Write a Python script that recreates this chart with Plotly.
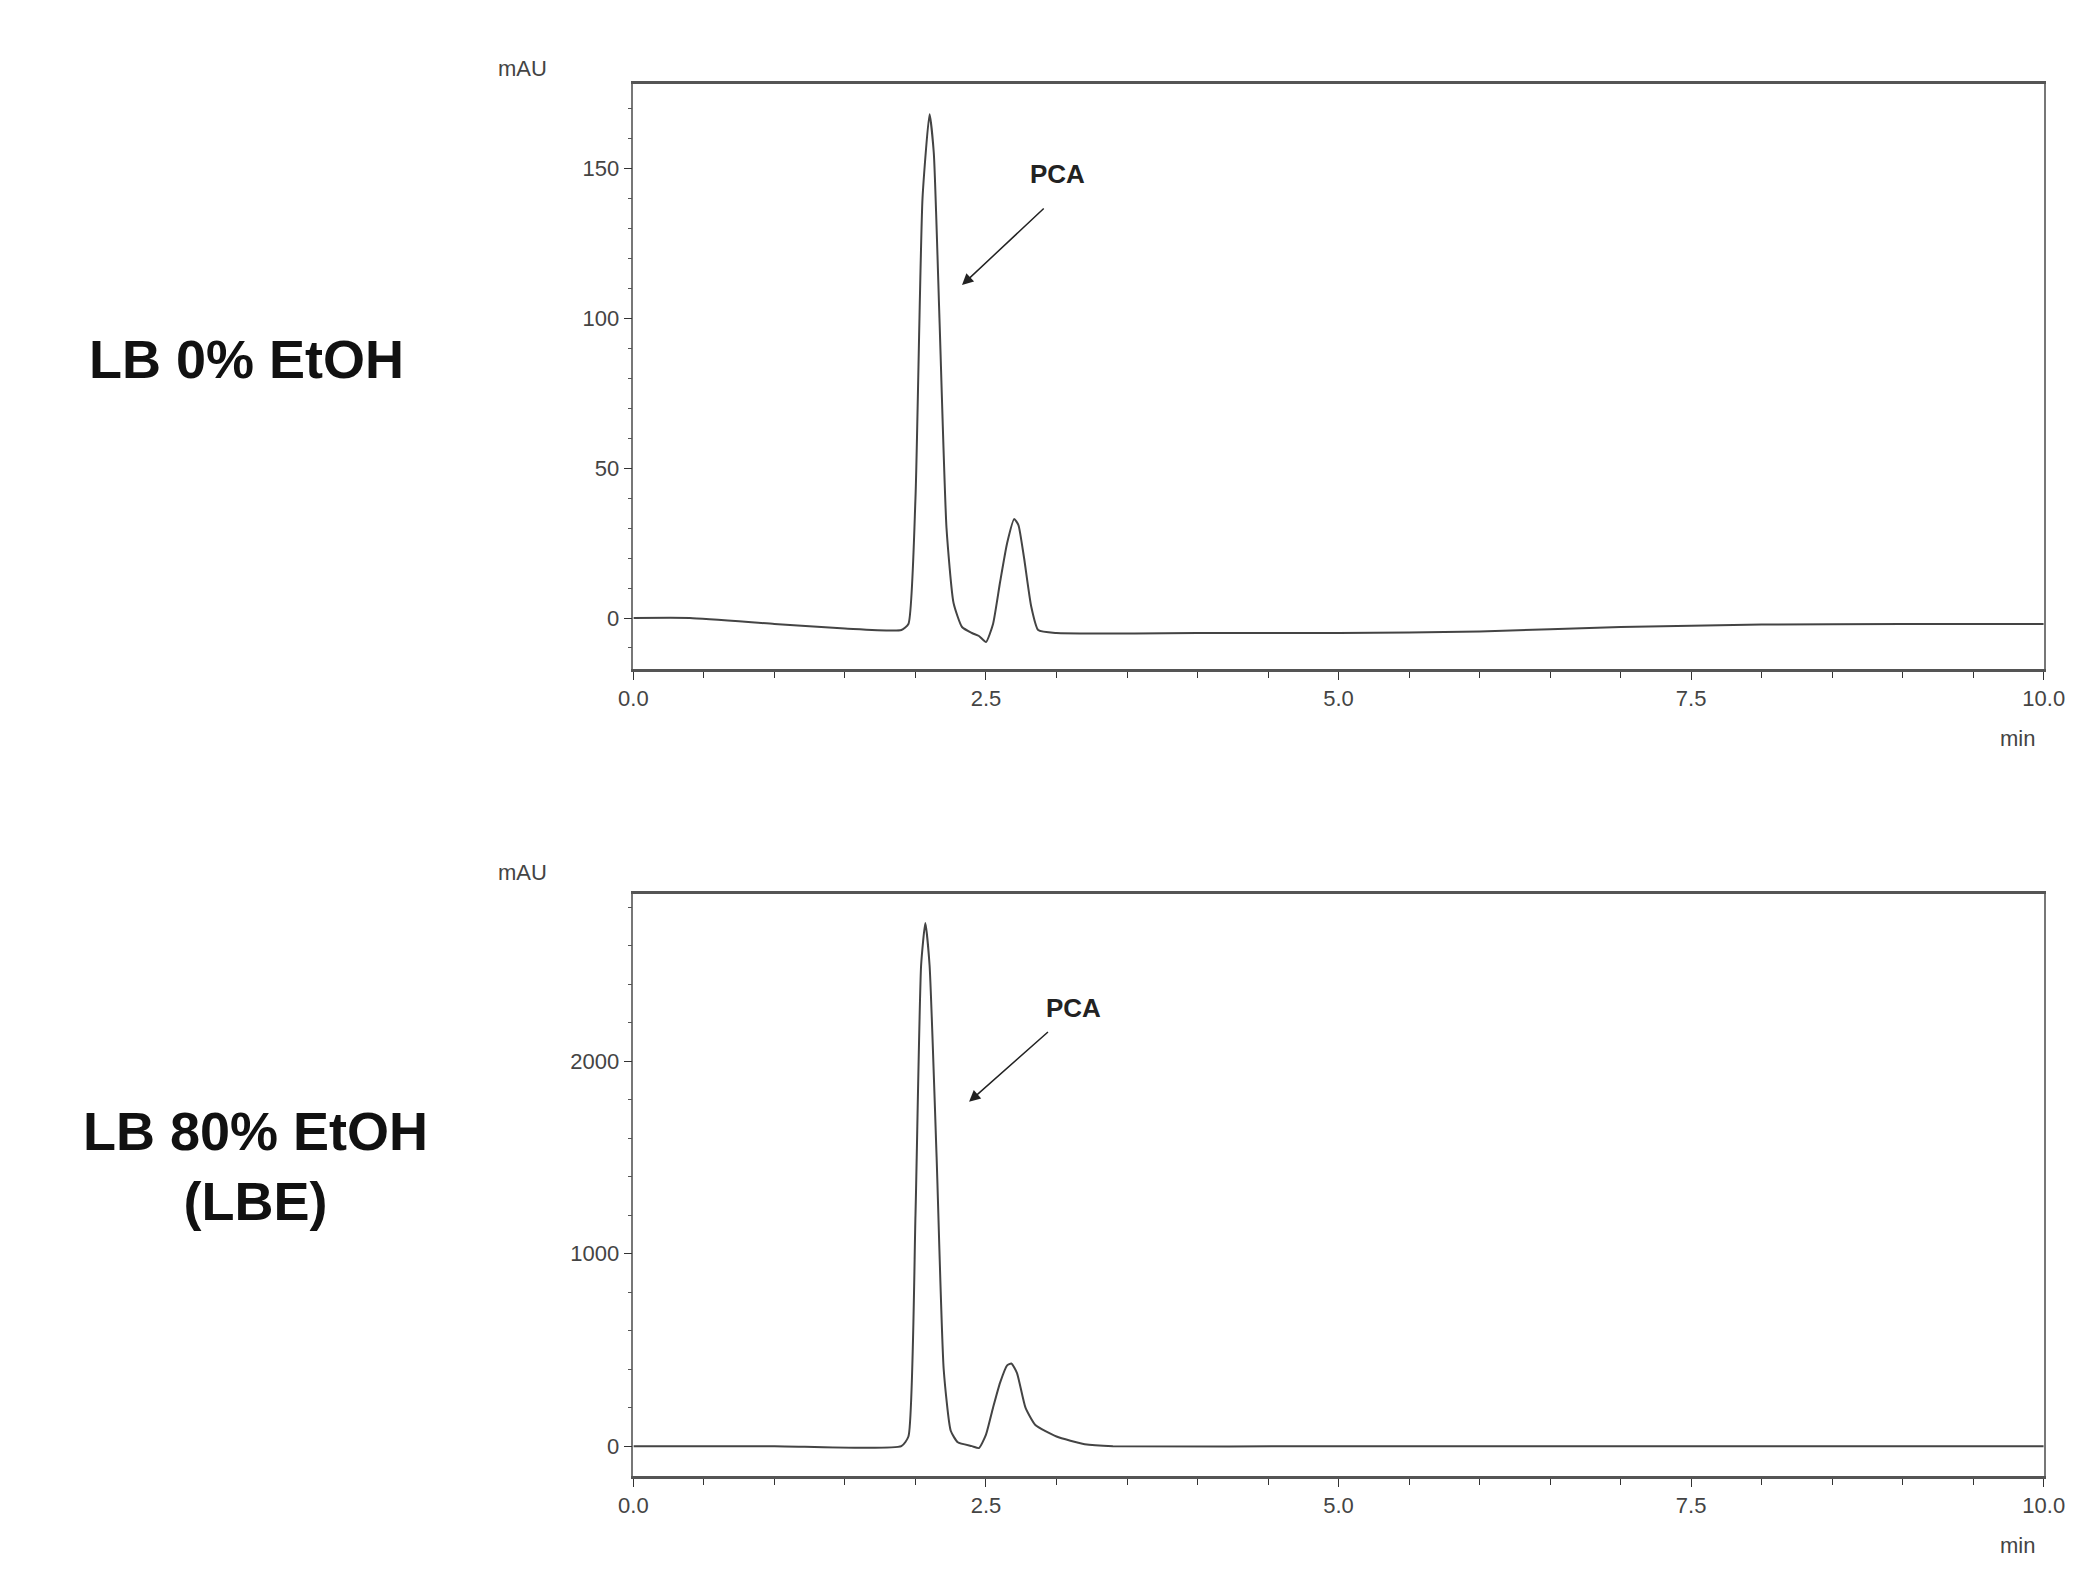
import plotly.graph_objects as go
from plotly.subplots import make_subplots

t_top = [0, 0.4, 1.0, 1.5, 1.9, 1.95, 2.0, 2.05, 2.1, 2.13, 2.17, 2.22, 2.27, 2.33, 2.4, 2.45, 2.5, 2.55, 2.6, 2.65, 2.7, 2.73, 2.77, 2.82, 2.87, 3.0, 4.0, 5.0, 6.0, 7.0, 8.0, 9.0, 10.0]
y_top = [0, 0, -2, -3.5, -4, -2, 40, 140, 168, 155, 100, 30, 5, -3, -5, -6, -8, -2, 12, 25, 33, 31, 20, 4, -4, -5, -5, -5, -4.5, -3, -2.2, -2, -2]
t_bot = [0, 1.0, 1.9, 1.95, 2.0, 2.04, 2.07, 2.1, 2.15, 2.2, 2.25, 2.3, 2.4, 2.45, 2.5, 2.55, 2.6, 2.65, 2.68, 2.72, 2.78, 2.85, 3.0, 3.2, 3.4, 5.0, 7.0, 10.0]
y_bot = [0, 0, 0, 50, 1200, 2500, 2720, 2500, 1500, 400, 80, 20, 0, -10, 60, 200, 330, 420, 430, 380, 200, 110, 50, 10, 0, 0, 0, 0]
row_labels = ["LB 0% EtOH", "LB 80% EtOH<br>(LBE)"]

fig = make_subplots(rows=2, cols=1)
fig.add_trace(go.Scatter(x=t_top, y=y_top, mode="lines", line=dict(color="#444", width=2, shape="spline", smoothing=0.5)), row=1, col=1)
fig.add_trace(go.Scatter(x=t_bot, y=y_bot, mode="lines", line=dict(color="#444", width=2, shape="spline", smoothing=0.5)), row=2, col=1)

tickfont = dict(family="Arial, Liberation Sans", size=22, color="#444")
xdom = [0.2966, 0.9819]
for i, (ydom, yr, dt, mt) in enumerate([([0.5835, 0.952], [-17, 178], 50, 10), ([0.075, 0.4417], [-155, 2870], 1000, 200)], start=1):
    fig.update_xaxes(row=i, col=1, domain=xdom, range=[0, 10], tickvals=[0, 2.5, 5, 7.5, 10],
                     ticktext=["0.0", "2.5", "5.0", "7.5", "10.0"], ticks="outside", ticklen=8, tickcolor="#333",
                     minor=dict(dtick=0.5, ticks="outside", ticklen=6, tickcolor="#333"),
                     showline=True, linecolor="#555", linewidth=3, mirror=True, showgrid=False, zeroline=False,
                     tickfont=tickfont)
    fig.update_yaxes(row=i, col=1, domain=ydom, range=yr, dtick=dt, ticks="outside", ticklen=8, tickcolor="#333",
                     minor=dict(dtick=mt, ticks="outside", ticklen=4, tickcolor="#555"),
                     showline=True, linecolor="#777", linewidth=1.5, mirror=True, showgrid=False, zeroline=False,
                     tickfont=tickfont)

arrows = [("x", "y", 2.33, 111, 2.92, 137, 3.01, 148), ("x2", "y2", 2.38, 1790, 2.95, 2160, 3.12, 2280)]
for xr, yr_, hx, hy, tx, ty, lx, ly in arrows:
    fig.add_annotation(xref=xr, yref=yr_, x=hx, y=hy, ax=tx, ay=ty, axref=xr, ayref=yr_, text="", showarrow=True,
                       arrowhead=2, arrowsize=1.5, arrowwidth=1.5, arrowcolor="#222")
    fig.add_annotation(xref=xr, yref=yr_, x=lx, y=ly, text="<b>PCA</b>", showarrow=False,
                       font=dict(family="Arial, Liberation Sans", size=26, color="#222"))

for y in [1 - 61 / 1587, 1 - 864 / 1587]:
    fig.add_annotation(xref="paper", yref="paper", x=508 / 2094, y=y, text="mAU", showarrow=False,
                       xanchor="center", yanchor="middle", font=tickfont)
for y in [1 - 730 / 1587, 1 - 1537 / 1587]:
    fig.add_annotation(xref="paper", yref="paper", x=2029 / 2094, y=y, text="min", showarrow=False,
                       xanchor="center", yanchor="middle", font=tickfont)

fig.add_annotation(xref="paper", yref="paper", x=227 / 2094, y=1 - 351 / 1587, text="<b>" + row_labels[0] + "</b>",
                   showarrow=False, xanchor="center", yanchor="middle",
                   font=dict(family="Arial, Liberation Sans", size=54, color="#111"))
fig.add_annotation(xref="paper", yref="paper", x=237 / 2094, y=1 - 1158 / 1587, text="<b>" + row_labels[1] + "</b>",
                   showarrow=False, xanchor="center", yanchor="middle",
                   font=dict(family="Arial, Liberation Sans", size=54, color="#111"))

fig.update_layout(width=2094, height=1587, showlegend=False, plot_bgcolor="white", paper_bgcolor="white",
                  margin=dict(l=0, r=0, t=0, b=0))
fig.write_html("out.html")
